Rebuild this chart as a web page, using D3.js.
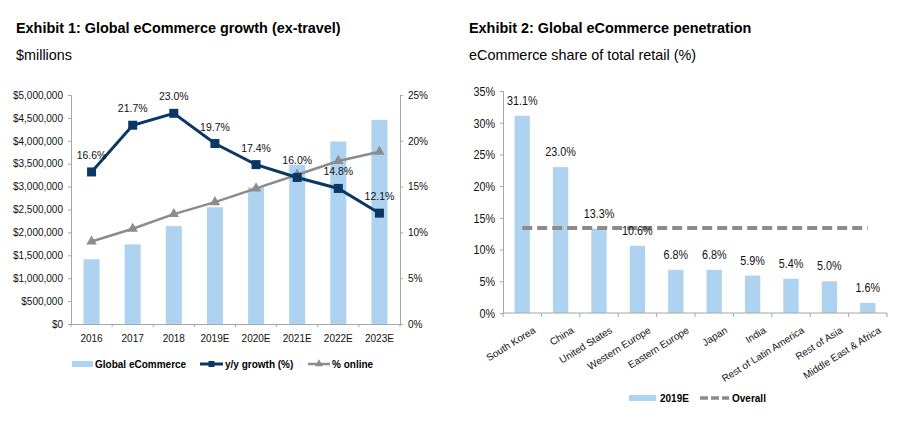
<!DOCTYPE html>
<html><head><meta charset="utf-8">
<script src="https://cdn.jsdelivr.net/npm/d3@7/dist/d3.min.js"></script>
<style>
body{margin:0;background:#fff;}
svg{display:block;font-family:"Liberation Sans",Arial,sans-serif;}
</style></head>
<body><svg id="c" width="913" height="423"></svg>
<script>
// ---- Exhibit 1 data ----
const years = ["2016","2017","2018","2019E","2020E","2021E","2022E","2023E"];
const ecommerce = [1413000,1739000,2137000,2550000,2985000,3478000,3985000,4457000];
const yoyGrowth = [16.6,21.7,23.0,19.7,17.4,16.0,14.8,12.1];
const pctOnline = [9.0,10.4,12.0,13.3,14.8,16.3,17.8,18.8];
const leftTicks = [0,500000,1000000,1500000,2000000,2500000,3000000,3500000,4000000,4500000,5000000];
const rightTicks = [0,5,10,15,20,25];
// ---- Exhibit 2 data ----
const regions = ["South Korea","China","United States","Western Europe","Eastern Europe","Japan","India","Rest of Latin America","Rest of Asia","Middle East & Africa"];
const share2019 = [31.1,23.0,13.3,10.6,6.8,6.8,5.9,5.4,5.0,1.6];
const overall = 13.4;
const shareTicks = [0,5,10,15,20,25,30,35];

const BLUE="#aed3f0", NAVY="#0b3764", GREY="#8c8c8c", AX="#a6a6a6";
const NARROW_SCALE = 0.8;
const svg = d3.select("#c");

// titles
svg.append("text").attr("x",16).attr("y",33).attr("font-size",14.4).attr("font-weight","bold").text("Exhibit 1: Global eCommerce growth (ex-travel)");
svg.append("text").attr("x",16).attr("y",60).attr("font-size",14.4).text("$millions");
svg.append("text").attr("x",469).attr("y",33).attr("font-size",14.4).attr("font-weight","bold").text("Exhibit 2: Global eCommerce penetration");
svg.append("text").attr("x",469).attr("y",60).attr("font-size",14.4).text("eCommerce share of total retail (%)");

// ===== Chart 1 =====
const L={x0:71,x1:400,y0:324,y1:95};
const x1 = d3.scaleBand().domain(years).range([L.x0,L.x1]).paddingInner(0.61).paddingOuter(0.305);
const yL = d3.scaleLinear().domain([0,5000000]).range([L.y0,L.y1]);
const yR = d3.scaleLinear().domain([0,25]).range([L.y0,L.y1]);
const g1 = svg.append("g");

g1.selectAll("rect.bar").data(years).join("rect").attr("class","bar")
  .attr("x",d=>x1(d)).attr("width",x1.bandwidth())
  .attr("y",(d,i)=>yL(ecommerce[i])).attr("height",(d,i)=>L.y0-yL(ecommerce[i])).attr("fill",BLUE);

const axL = g1.append("g").attr("transform",`translate(${L.x0},0)`)
  .call(d3.axisLeft(yL).tickValues(leftTicks).tickSize(3).tickPadding(5).tickFormat(d=>"$"+d3.format(",")(d)));
const axR = g1.append("g").attr("transform",`translate(${L.x1},0)`)
  .call(d3.axisRight(yR).tickValues(rightTicks).tickSize(3).tickPadding(5).tickFormat(d=>d+"%"));
const axB = g1.append("g").attr("transform",`translate(0,${L.y0})`)
  .call(d3.axisBottom(x1).tickSize(0).tickPadding(11));
const step1 = x1.step();
g1.selectAll("line.bt").data(d3.range(years.length+1)).join("line").attr("class","bt")
  .attr("x1",i=>L.x0+i*step1).attr("x2",i=>L.x0+i*step1).attr("y1",L.y0).attr("y2",L.y0+3).attr("stroke",AX);
[axL,axR,axB].forEach(a=>{a.selectAll("path,line").attr("stroke",AX);a.selectAll("text").attr("font-size",10).attr("fill","#111").attr("font-family","Liberation Sans, Arial");});

const cx1 = d=>x1(d)+x1.bandwidth()/2;
g1.append("path").datum(years).attr("fill","none").attr("stroke",GREY).attr("stroke-width",2.5)
  .attr("d",d3.line().x(cx1).y((d,i)=>yR(pctOnline[i])));
g1.selectAll("path.tri").data(years).join("path").attr("class","tri")
  .attr("transform",(d,i)=>`translate(${cx1(d)},${yR(pctOnline[i])})`)
  .attr("d",d3.symbol(d3.symbolTriangle,48)).attr("fill",GREY);
g1.append("path").datum(years).attr("fill","none").attr("stroke",NAVY).attr("stroke-width",3)
  .attr("d",d3.line().x(cx1).y((d,i)=>yR(yoyGrowth[i])));
g1.selectAll("rect.sq").data(years).join("rect").attr("class","sq")
  .attr("x",d=>cx1(d)-4.5).attr("y",(d,i)=>yR(yoyGrowth[i])-4.5).attr("width",9).attr("height",9).attr("fill",NAVY);
g1.selectAll("text.lbl").data(years).join("text").attr("class","lbl")
  .attr("x",cx1).attr("y",(d,i)=>yR(yoyGrowth[i])-13).attr("text-anchor","middle")
  .attr("font-size",10.5).attr("fill","#111").text((d,i)=>yoyGrowth[i].toFixed(1)+"%");

// legend 1
const lg1 = svg.append("g").attr("font-size",10).attr("font-weight","bold");
lg1.append("rect").attr("x",72).attr("y",361).attr("width",21).attr("height",6).attr("fill",BLUE);
lg1.append("text").attr("x",95).attr("y",368).text("Global eCommerce");
lg1.append("line").attr("x1",200).attr("x2",223).attr("y1",364).attr("y2",364).attr("stroke",NAVY).attr("stroke-width",3);
lg1.append("rect").attr("x",208.5).attr("y",361).attr("width",6).attr("height",6).attr("fill",NAVY);
lg1.append("text").attr("x",225).attr("y",368).text("y/y growth (%)");
lg1.append("line").attr("x1",308).attr("x2",330).attr("y1",364).attr("y2",364).attr("stroke",GREY).attr("stroke-width",2.5);
lg1.append("path").attr("transform","translate(319,364)").attr("d",d3.symbol(d3.symbolTriangle,28)).attr("fill",GREY);
lg1.append("text").attr("x",332).attr("y",368).text("% online");

// ===== Chart 2 =====
const R={x0:503,x1:887,y0:313,y1:91};
const x2 = d3.scaleBand().domain(regions).range([R.x0,R.x1]).paddingInner(0.6).paddingOuter(0.3);
const y2 = d3.scaleLinear().domain([0,35]).range([R.y0,R.y1]);
const g2 = svg.append("g");
g2.selectAll("rect.bar2").data(regions).join("rect").attr("class","bar2")
  .attr("x",d=>x2(d)).attr("width",x2.bandwidth())
  .attr("y",(d,i)=>y2(share2019[i])).attr("height",(d,i)=>R.y0-y2(share2019[i])).attr("fill",BLUE);
const ay2 = g2.append("g").attr("transform",`translate(${R.x0},0)`)
  .call(d3.axisLeft(y2).tickValues(shareTicks).tickSize(3).tickPadding(7).tickFormat(d=>d+"%"));
ay2.selectAll("path,line").attr("stroke",AX);
ay2.selectAll("text").attr("font-size",13.5).attr("fill","#111").attr("transform",`scale(${NARROW_SCALE},1)`);
g2.append("line").attr("x1",R.x0).attr("x2",R.x1).attr("y1",R.y0).attr("y2",R.y0).attr("stroke",AX);
const step2 = x2.step();
g2.selectAll("line.bt2").data(d3.range(regions.length+1)).join("line").attr("class","bt2")
  .attr("x1",i=>R.x0+i*step2).attr("x2",i=>R.x0+i*step2).attr("y1",R.y0).attr("y2",R.y0+4).attr("stroke",AX);
const cx2 = d=>x2(d)+x2.bandwidth()/2;
g2.selectAll("text.cat").data(regions).join("text").attr("class","cat")
  .attr("transform",d=>`translate(${cx2(d)+14},${R.y0+19}) rotate(-32)`)
  .attr("text-anchor","end").attr("font-size",10).attr("fill","#111").text(d=>d);
g2.append("line").attr("x1",cx2(regions[0])).attr("x2",cx2(regions[regions.length-1]))
  .attr("y1",y2(overall)).attr("y2",y2(overall)).attr("stroke",GREY).attr("stroke-width",4).attr("stroke-dasharray","10,5");
g2.selectAll("text.v").data(regions).join("text").attr("class","v")
  .attr("transform",(d,i)=>`translate(${cx2(d)},${y2(share2019[i])-11}) scale(${NARROW_SCALE},1)`)
  .attr("text-anchor","middle").attr("font-size",13.5).attr("fill","#111").text((d,i)=>share2019[i].toFixed(1)+"%");

// legend 2
const lg2 = svg.append("g").attr("font-size",10).attr("font-weight","bold");
lg2.append("rect").attr("x",629).attr("y",395).attr("width",27).attr("height",6).attr("fill",BLUE);
lg2.append("text").attr("x",660).attr("y",402).text("2019E");
lg2.append("line").attr("x1",700).attr("x2",729).attr("y1",398).attr("y2",398).attr("stroke",GREY).attr("stroke-width",3.5).attr("stroke-dasharray","8,3");
lg2.append("text").attr("x",732).attr("y",402).text("Overall");
</script></body></html>
